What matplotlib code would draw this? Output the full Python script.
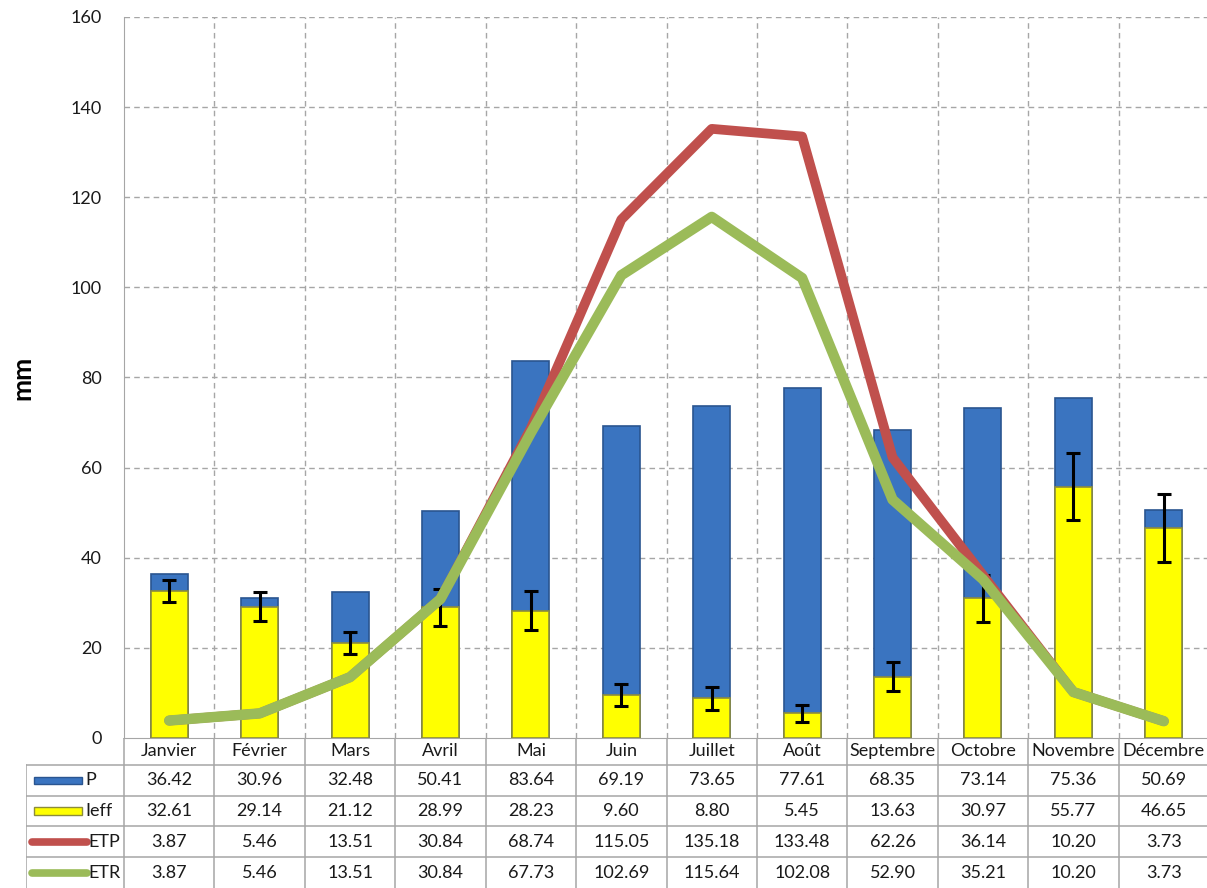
import numpy as np
import matplotlib
matplotlib.use('Agg')
import matplotlib.pyplot as plt
from matplotlib.patches import Rectangle
from matplotlib.lines import Line2D

plt.rcParams['font.family'] = ['Lato', 'DejaVu Sans']

months = ['Janvier', 'Février', 'Mars', 'Avril', 'Mai', 'Juin', 'Juillet',
          'Août', 'Septembre', 'Octobre', 'Novembre', 'Décembre']
P = [36.42, 30.96, 32.48, 50.41, 83.64, 69.19, 73.65, 77.61, 68.35, 73.14, 75.36, 50.69]
Ieff = [32.61, 29.14, 21.12, 28.99, 28.23, 9.60, 8.80, 5.45, 13.63, 30.97, 55.77, 46.65]
ETP = [3.87, 5.46, 13.51, 30.84, 68.74, 115.05, 135.18, 133.48, 62.26, 36.14, 10.20, 3.73]
ETR = [3.87, 5.46, 13.51, 30.84, 67.73, 102.69, 115.64, 102.08, 52.90, 35.21, 10.20, 3.73]
Ieff_err = [2.5, 3.2, 2.5, 4.1, 4.3, 2.4, 2.5, 1.8, 3.2, 5.2, 7.5, 7.5]

BLUE = '#3a74c0'
BLUE_EDGE = '#2a5590'
YELLOW = '#ffff00'
YELLOW_EDGE = '#8c8c3c'
RED = '#c0504d'
GREEN = '#9bbb59'
GRID = '#a6a6a6'
TXT = '#1a1a1a'

W, H = 1207, 888
fig = plt.figure(figsize=(W / 100, H / 100), dpi=100)

# pixel layout
x_left, x_right = 124, 1209
y_top, y_bot = 17, 738
ax = fig.add_axes([x_left / W, 1 - y_bot / H, (x_right - x_left) / W, (y_bot - y_top) / H])

x = np.arange(len(months))
bw = 0.41

ax.bar(x, P, width=bw, color=BLUE, edgecolor=BLUE_EDGE, linewidth=1.2, zorder=3)
ax.bar(x, Ieff, width=bw, color=YELLOW, edgecolor=YELLOW_EDGE, linewidth=1.2, zorder=4)
ax.errorbar(x, Ieff, yerr=Ieff_err, fmt='none', ecolor='black', elinewidth=2.2,
            capsize=5, capthick=2.2, zorder=5)
ax.plot(x, ETP, color=RED, linewidth=7, solid_capstyle='round', zorder=6)
ax.plot(x, ETR, color=GREEN, linewidth=7.5, solid_capstyle='round', zorder=7)

ax.set_xlim(-0.5, 11.5)
ax.set_ylim(0, 160)
ax.set_yticks(np.arange(0, 161, 20))
ax.set_xticks([])
ax.tick_params(axis='y', length=0, pad=16, labelsize=13, labelcolor=TXT)
for v in np.arange(20, 161, 20):
    ax.axhline(v, color=GRID, linestyle=(0, (4, 3)), linewidth=1, zorder=1)
for b in np.arange(0.5, 11.5, 1):
    ax.axvline(b, color=GRID, linestyle=(0, (4, 3)), linewidth=1, zorder=1)
for s in ['top', 'right']:
    ax.spines[s].set_visible(False)
ax.spines['left'].set_color(GRID)
ax.spines['bottom'].set_color(GRID)
fig.text(22 / W, 1 - 378 / H, 'mm', rotation=90, ha='center', va='center',
         fontsize=19, fontweight='bold', color='black')

# data table below the chart
t_left = 26
tax = fig.add_axes([t_left / W, 0, (x_right - t_left) / W, (H - y_bot) / H])
unit = (x_right - x_left) / 12
xl = -0.5 - (x_left - t_left) / unit
tax.set_xlim(xl, 11.5)
row_edges = [0, 0.87, 1.87, 2.87, 3.87, 4.87]
tax.set_ylim(row_edges[-1], 0)
tax.axis('off')

lc = dict(color=GRID, linewidth=1.1)
# header row (no left cell)
tax.plot([-0.5, 11.5], [0, 0], **lc)
for b in np.arange(-0.5, 11.6, 1):
    tax.plot([b, b], [0, row_edges[-1]], **lc)
tax.plot([xl, xl], [row_edges[1], row_edges[-1]], **lc)
for e in row_edges[1:-1]:
    tax.plot([xl, 11.5], [e, e], **lc)

for i, m in enumerate(months):
    tax.text(i, (row_edges[0] + row_edges[1]) / 2, m, ha='center', va='center',
             fontsize=13, color=TXT)

series = [('P', P), ('Ieff', Ieff), ('ETP', ETP), ('ETR', ETR)]
for r, (name, vals) in enumerate(series):
    yc = (row_edges[r + 1] + row_edges[r + 2]) / 2
    for i, v in enumerate(vals):
        tax.text(i, yc, f'{v:.2f}', ha='center', va='center', fontsize=13, color=TXT)
    sx0, sx1 = xl + 0.09, xl + 0.62
    if name == 'P':
        tax.add_patch(Rectangle((sx0, yc - 0.12), sx1 - sx0, 0.24, facecolor=BLUE,
                                edgecolor=BLUE_EDGE, linewidth=1))
    elif name == 'Ieff':
        tax.add_patch(Rectangle((sx0, yc - 0.12), sx1 - sx0, 0.24, facecolor=YELLOW,
                                edgecolor=YELLOW_EDGE, linewidth=1))
    else:
        col = RED if name == 'ETP' else GREEN
        tax.add_line(Line2D([sx0 - 0.02, sx1 + 0.05], [yc, yc], color=col, linewidth=5.5,
                            solid_capstyle='round'))
    tax.text(sx1 + 0.07 if name in ('ETP', 'ETR') else sx1 + 0.04, yc, name,
             ha='left', va='center', fontsize=13, color=TXT)

fig.savefig('out.png', dpi=100)
